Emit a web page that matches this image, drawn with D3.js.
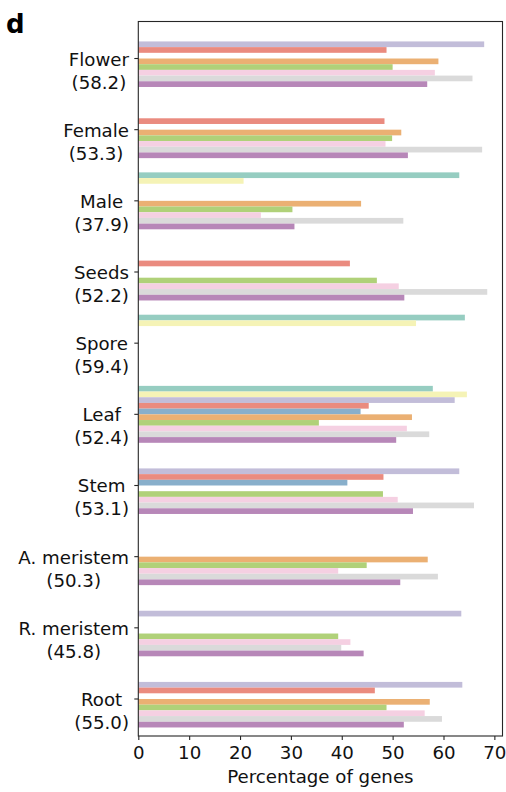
<!DOCTYPE html>
<html>
<head>
<meta charset="utf-8">
<script src="https://cdn.jsdelivr.net/npm/d3@7"></script>
<style>
  html, body { margin: 0; padding: 0; background: #fff; }
  svg { display: block; font-family: "DejaVu Sans", sans-serif; }
</style>
</head>
<body>
<svg id="chart" width="506" height="792"></svg>
<script>
// Tissues (top to bottom) and the mean percentage shown under each name
const categories = ["Flower", "Female", "Male", "Seeds", "Spore", "Leaf", "Stem", "A. meristem", "R. meristem", "Root"];
const categoryMeans = ["58.2", "53.3", "37.9", "52.2", "59.4", "52.4", "53.1", "50.3", "45.8", "55.0"];

// One array per series, in drawing order inside each group (null = no bar)
const seriesA = [null, null, 63.1, null, 64.2, 57.9, null, null, null, null];
const seriesB = [null, null, 20.7, null, 54.6, 64.6, null, null, null, null];
const seriesC = [68.0, null, null, null, null, 62.2, 63.1, null, 63.5, 63.7];
const seriesD = [48.8, 48.4, null, 41.6, null, 45.3, 48.2, null, null, 46.5];
const seriesE = [null, null, null, null, null, 43.7, 41.1, null, null, null];
const seriesF = [59.0, 51.7, 43.8, null, null, 53.8, null, 56.9, null, 57.3];
const seriesG = [50.0, 49.9, 30.3, 46.9, null, 35.5, 48.1, 44.9, 39.3, 48.8];
const seriesH = [58.3, 48.6, 24.1, 51.2, null, 52.8, 51.0, 39.3, 41.7, 56.3];
const seriesI = [65.7, 67.6, 52.1, 68.6, null, 57.2, 66.0, 58.9, 39.9, 59.7];
const seriesJ = [56.8, 53.0, 30.7, 52.3, null, 50.7, 54.0, 51.5, 44.3, 52.2];

const seriesList = [seriesA, seriesB, seriesC, seriesD, seriesE, seriesF, seriesG, seriesH, seriesI, seriesJ];
const seriesColors = ["#96cdc1", "#f5f3b6", "#c2bdd9", "#ea8b7f", "#88afcb",
                      "#ebb073", "#b0d179", "#f5d0e2", "#dadada", "#b787b8"];

const xTicks = [0, 10, 20, 30, 40, 50, 60, 70];
const xLabel = "Percentage of genes";
const panelLetter = "d";

// Layout
const plot = { left: 138.3, right: 502.5, top: 21.5, bottom: 736 };
const fontSize = 18.2;

const svg = d3.select("#chart");

const x = d3.scaleLinear().domain([0, 71.6]).range([plot.left, plot.right]);

const y = d3.scaleBand()
  .domain(categories)
  .range([plot.top, plot.bottom])
  .paddingInner(0.2)
  .paddingOuter(0.12)
  .align(0.5);

const ySeries = d3.scaleBand()
  .domain(d3.range(seriesList.length))
  .range([0, y.bandwidth()]);

// Bars
const barData = [];
seriesList.forEach((vals, si) => {
  vals.forEach((v, ci) => {
    if (v !== null) barData.push({ cat: categories[ci], s: si, v: v });
  });
});

svg.append("g")
  .selectAll("rect")
  .data(barData)
  .join("rect")
  .attr("x", x(0))
  .attr("y", d => y(d.cat) + ySeries(d.s))
  .attr("width", d => x(d.v) - x(0))
  .attr("height", ySeries.bandwidth())
  .attr("fill", d => seriesColors[d.s]);

// Frame
svg.append("rect")
  .attr("x", plot.left)
  .attr("y", plot.top)
  .attr("width", plot.right - plot.left)
  .attr("height", plot.bottom - plot.top)
  .attr("fill", "none")
  .attr("stroke", "#262626")
  .attr("stroke-width", 1.1);

// Bottom axis
const xAxis = svg.append("g")
  .attr("transform", `translate(0,${plot.bottom})`)
  .call(d3.axisBottom(x).tickValues(xTicks).tickSize(4).tickPadding(6).tickFormat(d3.format("d")));
xAxis.select(".domain").remove();
xAxis.selectAll(".tick line").attr("stroke", "#262626").attr("stroke-width", 1.1);
xAxis.selectAll(".tick text")
  .attr("fill", "#111")
  .style("font-family", "'DejaVu Sans', sans-serif")
  .style("font-size", fontSize + "px");

svg.append("text")
  .attr("x", (plot.left + plot.right) / 2)
  .attr("y", 783)
  .attr("text-anchor", "middle")
  .attr("fill", "#111")
  .style("font-size", fontSize + "px")
  .text(xLabel);

// Left axis ticks
const yAxis = svg.append("g")
  .attr("transform", `translate(${plot.left},0)`)
  .call(d3.axisLeft(y).tickSize(4).tickFormat(""));
yAxis.select(".domain").remove();
yAxis.selectAll(".tick line").attr("stroke", "#262626").attr("stroke-width", 1.1);

// Two-line category labels, block right-aligned, lines centred in the block
const labelRight = 129;
categories.forEach((c, i) => {
  const cy = y(c) + y.bandwidth() / 2;
  const g = svg.append("g");
  const t1 = g.append("text")
    .attr("y", cy + 7)
    .attr("text-anchor", "middle")
    .attr("fill", "#111")
    .style("font-size", fontSize + "px")
    .text(c);
  const t2 = g.append("text")
    .attr("y", cy + 30)
    .attr("text-anchor", "middle")
    .attr("fill", "#111")
    .style("font-size", fontSize + "px")
    .text("(" + categoryMeans[i] + ")");
  const w = Math.max(t1.node().getComputedTextLength(), t2.node().getComputedTextLength());
  const cx = labelRight - w / 2;
  t1.attr("x", cx);
  t2.attr("x", cx);
});

// Panel letter
svg.append("text")
  .attr("x", 6)
  .attr("y", 33)
  .attr("fill", "#000")
  .style("font-size", "26px")
  .style("font-weight", "bold")
  .text(panelLetter);
</script>
</body>
</html>
